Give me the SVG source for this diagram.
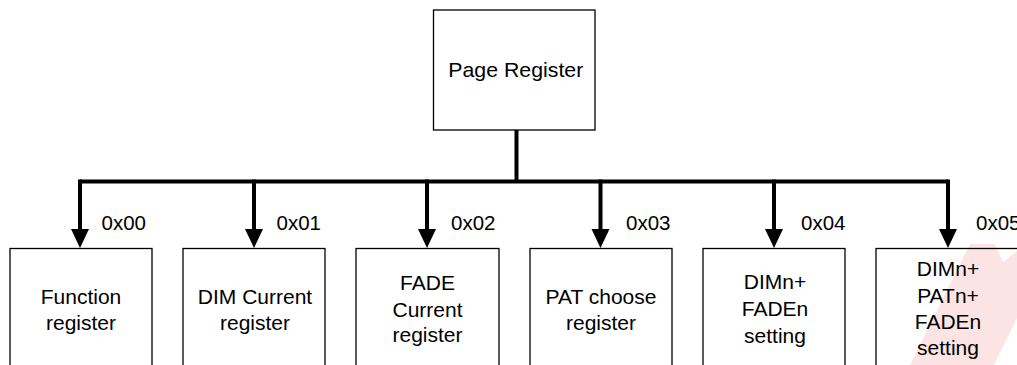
<svg xmlns="http://www.w3.org/2000/svg" width="1017" height="365" viewBox="0 0 1017 365">
  <style>
    .box { fill: none; stroke: #000; stroke-width: 1.3; }
    .lbl { font-family: "Liberation Sans", Arial, sans-serif; font-size: 21px; fill: #000; text-anchor: middle; }
    .addr { font-family: "Liberation Sans", Arial, sans-serif; font-size: 20.5px; fill: #000; }
    .wire { fill: none; stroke: #000; stroke-width: 4; }
    .head { fill: #000; stroke: none; }
  </style>
  <rect x="0" y="0" width="1017" height="365" fill="#fff"/>
  <polygon points="970,244 995,244 1003,262 1017,251 1017,318 994,365 910,365" fill="#fde4e4"/>

  <g id="connectors">
    <path class="wire" d="M516.5,130 V181.5"/>
    <path class="wire" d="M80,181.5 H948"/>
    <path class="wire" d="M80,179.5 V232"/>
    <path class="wire" d="M254,179.5 V232"/>
    <path class="wire" d="M427,179.5 V232"/>
    <path class="wire" d="M600.5,179.5 V232"/>
    <path class="wire" d="M774,179.5 V232"/>
    <path class="wire" d="M948,179.5 V232"/>
    <polygon class="head" points="71,229 89,229 80,248"/>
    <polygon class="head" points="245,229 263,229 254,248"/>
    <polygon class="head" points="418,229 436,229 427,248"/>
    <polygon class="head" points="591.5,229 609.5,229 600.5,248"/>
    <polygon class="head" points="765,229 783,229 774,248"/>
    <polygon class="head" points="939,229 957,229 948,248"/>
    <text class="addr" x="101.5" y="229.5">0x00</text>
    <text class="addr" x="276.5" y="229.5">0x01</text>
    <text class="addr" x="451" y="229.5">0x02</text>
    <text class="addr" x="626" y="229.5">0x03</text>
    <text class="addr" x="801" y="229.5">0x04</text>
    <text class="addr" x="976" y="229.5">0x05</text>
  </g>

  <g id="page-register">
    <rect class="box" x="433.5" y="10" width="161.5" height="120"/>
    <text class="lbl" x="515.8" y="76.7" textLength="135" lengthAdjust="spacingAndGlyphs">Page Register</text>
  </g>

  <g id="function-register">
    <rect class="box" x="10" y="248.5" width="142" height="140"/>
    <text class="lbl" x="81" y="304.3">Function</text>
    <text class="lbl" x="81" y="329.5">register</text>
  </g>

  <g id="dim-current-register">
    <rect class="box" x="183" y="248.5" width="142" height="140"/>
    <text class="lbl" x="255" y="304.3">DIM Current</text>
    <text class="lbl" x="255" y="329.5">register</text>
  </g>

  <g id="fade-current-register">
    <rect class="box" x="356" y="248.5" width="143" height="140"/>
    <text class="lbl" x="427.5" y="290">FADE</text>
    <text class="lbl" x="427.5" y="316.5">Current</text>
    <text class="lbl" x="427.5" y="342">register</text>
  </g>

  <g id="pat-choose-register">
    <rect class="box" x="530" y="248.5" width="142" height="140"/>
    <text class="lbl" x="601" y="304.3">PAT choose</text>
    <text class="lbl" x="601" y="329.5">register</text>
  </g>

  <g id="dimn-faden-setting">
    <rect class="box" x="703" y="248.5" width="142" height="140"/>
    <text class="lbl" x="775" y="289">DIMn+</text>
    <text class="lbl" x="775" y="316">FADEn</text>
    <text class="lbl" x="775" y="342.5">setting</text>
  </g>

  <g id="dimn-patn-faden-setting">
    <rect class="box" x="876" y="248.5" width="142" height="140"/>
    <text class="lbl" x="948" y="276">DIMn+</text>
    <text class="lbl" x="948" y="302.7">PATn+</text>
    <text class="lbl" x="948" y="329.3">FADEn</text>
    <text class="lbl" x="948" y="355">setting</text>
  </g>
</svg>
